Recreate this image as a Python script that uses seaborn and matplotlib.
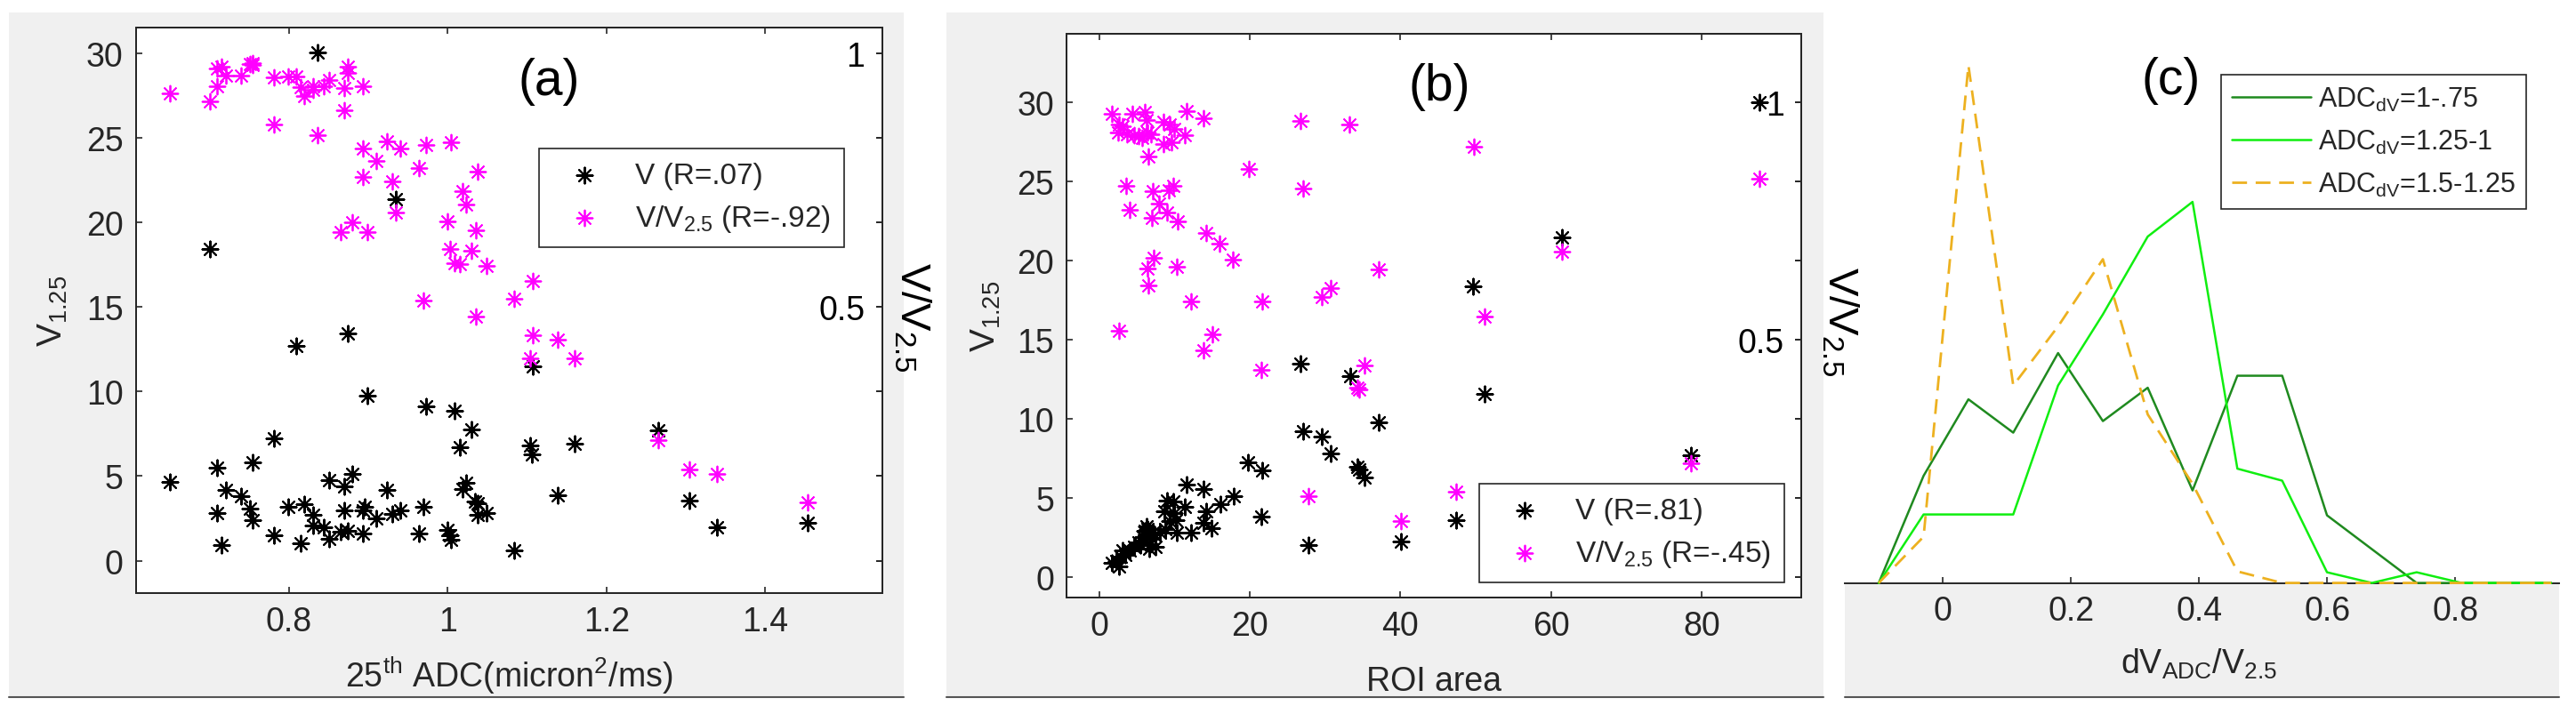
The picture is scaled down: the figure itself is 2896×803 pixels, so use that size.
import numpy as np
import pandas as pd
import matplotlib
matplotlib.use("Agg")
import matplotlib.pyplot as plt
import seaborn as sns
from matplotlib.patches import Rectangle
from matplotlib.lines import Line2D

# ---- panel (a): 25th ADC vs V1.25 (black) and V/V2.5 (magenta, right axis)
adc_v = [0.650, 0.700, 0.709, 0.720, 0.709, 0.715, 0.739, 0.751, 0.754, 0.754,
         0.781, 0.781, 0.799, 0.809, 0.815, 0.819, 0.830, 0.830, 0.836, 0.844,
         0.850, 0.850, 0.869, 0.869, 0.865, 0.874, 0.874, 0.880, 0.893, 0.893,
         0.895, 0.899, 0.910, 0.923, 0.930, 0.935, 0.940, 0.964, 0.969, 0.973,
         0.999, 1.003, 1.004, 1.008, 1.015, 1.019, 1.023, 1.030, 1.034, 1.038,
         1.038, 1.049, 1.084, 1.104, 1.106, 1.107, 1.160, 1.138, 1.265, 1.304,
         1.339, 1.453]
v_a = [4.67, 18.45, 5.49, 4.16, 2.83, 0.91, 3.79, 3.06, 2.39, 5.82,
       7.26, 1.51, 3.17, 12.73, 1.00, 3.34, 2.72, 2.10, 30.07, 1.95,
       1.28, 4.78, 4.38, 2.95, 1.73, 1.77, 13.46, 5.12, 1.62, 2.95,
       3.17, 9.77, 2.50, 4.16, 2.77, 21.39, 2.95, 1.62, 3.17, 9.15,
       1.84, 1.51, 1.22, 8.88, 6.71, 4.23, 4.61, 7.75, 3.50, 3.39,
       2.72, 2.83, 0.62, 6.82, 6.31, 11.47, 6.93, 3.88, 7.71, 3.57,
       1.95, 2.24]

adc_r = [0.650, 0.700, 0.709, 0.709, 0.715, 0.720, 0.739, 0.751, 0.754, 0.754,
         0.781, 0.781, 0.799, 0.809, 0.815, 0.819, 0.830, 0.830, 0.836, 0.844,
         0.850, 0.869, 0.869, 0.874, 0.874, 0.893, 0.893, 0.893, 0.910, 0.923,
         0.930, 0.935, 0.940, 0.865, 0.880, 0.899, 0.964, 0.973, 0.969, 1.004,
         0.999, 1.003, 1.008, 1.015, 1.019, 1.023, 1.030, 1.035, 1.035, 1.038,
         1.049, 1.084, 1.107, 1.107, 1.138, 1.104, 1.160, 1.265, 1.304, 1.339,
         1.453]
ratio_a = [0.921, 0.906, 0.936, 0.971, 0.975, 0.956, 0.956, 0.980, 0.982, 0.977,
           0.953, 0.860, 0.954, 0.954, 0.934, 0.917, 0.929, 0.936, 0.839, 0.936,
           0.948, 0.932, 0.888, 0.975, 0.962, 0.935, 0.813, 0.757, 0.788, 0.827,
           0.748, 0.687, 0.813, 0.648, 0.667, 0.648, 0.775, 0.819, 0.513, 0.825,
           0.669, 0.615, 0.587, 0.584, 0.729, 0.703, 0.611, 0.652, 0.481, 0.768,
           0.582, 0.517, 0.551, 0.445, 0.435, 0.399, 0.399, 0.238, 0.179, 0.171,
           0.115]

# ---- panel (b): ROI area
roi_v = [1.70, 2.29, 2.69, 2.89, 3.09, 3.48, 4.07, 4.67, 5.26, 5.85,
         6.05, 6.45, 6.65, 7.16, 7.44, 8.03, 8.62, 8.82, 9.42, 9.81,
         10.0, 10.3, 11.4, 11.6, 12.2, 13.8, 13.9, 14.2, 14.9, 16.1,
         17.9, 19.8, 21.7, 21.5, 26.7, 27.1, 27.8, 29.6, 30.7, 33.3,
         34.3, 34.5, 35.2, 37.1, 40.1, 47.4, 51.2, 49.6, 61.4, 78.5,
         87.6, 6.3, 7.0, 9.0, 10.2, 5.5]
v_b = [0.90, 1.03, 0.65, 1.28, 1.66, 1.40, 1.66, 1.91, 2.16, 2.53,
       2.91, 3.03, 1.78, 2.78, 1.91, 2.78, 4.16, 3.03, 3.54, 4.79,
       4.04, 2.78, 4.41, 5.84, 2.83, 5.54, 3.41, 4.16, 3.09, 4.61,
       5.12, 7.25, 6.75, 3.84, 13.49, 9.23, 2.03, 8.88, 7.80, 12.69,
       6.97, 6.80, 6.30, 9.76, 2.23, 3.59, 11.56, 18.38, 21.47, 7.67,
       30.0, 3.2, 2.4, 4.8, 3.6, 2.0]

roi_r = [1.70, 2.69, 2.49, 3.09, 3.68, 4.39, 4.67, 5.26, 5.66, 6.05,
         6.25, 6.45, 6.84, 6.57, 8.50, 9.42, 10.0, 8.50, 9.61, 11.4,
         11.6, 13.8, 3.60, 4.07, 7.16, 7.95, 6.96, 9.02, 9.30, 9.81,
         10.4, 14.2, 16.0, 17.8, 7.24, 6.45, 6.53, 10.3, 12.2, 21.7,
         2.69, 15.0, 13.8, 21.5, 19.9, 26.7, 27.1, 33.2, 29.6, 30.7,
         37.1, 35.2, 34.3, 34.5, 27.8, 40.1, 49.7, 51.2, 47.4, 61.4,
         78.5, 87.6]
ratio_b = [0.975, 0.954, 0.937, 0.950, 0.933, 0.975, 0.931, 0.929, 0.925, 0.979,
           0.962, 0.937, 0.933, 0.885, 0.958, 0.954, 0.944, 0.912, 0.916, 0.931,
           0.982, 0.966, 0.824, 0.773, 0.812, 0.787, 0.756, 0.768, 0.814, 0.824,
           0.749, 0.724, 0.703, 0.668, 0.672, 0.649, 0.615, 0.653, 0.581, 0.581,
           0.518, 0.511, 0.477, 0.436, 0.860, 0.960, 0.818, 0.954, 0.589, 0.609,
           0.647, 0.446, 0.398, 0.395, 0.171, 0.118, 0.906, 0.548, 0.179, 0.685,
           0.239, 0.839]

# ---- panel (c): distributions of dV_ADC/V2.5
bins_c = [-0.10, -0.03, 0.04, 0.11, 0.18, 0.25, 0.32, 0.39, 0.46, 0.53,
          0.60, 0.67, 0.74, 0.81, 0.88, 0.95]
dist_1_075 = [0.0, 0.241, 0.413, 0.338, 0.517, 0.364, 0.439, 0.208, 0.466, 0.466,
              0.152, 0.076, 0.0, 0.0, 0.0, 0.0]
dist_125_1 = [0.0, 0.154, 0.154, 0.154, 0.444, 0.604, 0.779, 0.857, 0.257, 0.230,
              0.024, 0.0, 0.024, 0.0, 0.0, 0.0]
dist_15_125 = [0.0, 0.104, 1.164, 0.444, 0.577, 0.728, 0.379, 0.223, 0.026, 0.0,
               0.0, 0.0, 0.0, 0.0, 0.0, 0.0]
labels_c = [r'ADC$_{dV}$=1-.75', r'ADC$_{dV}$=1.25-1', r'ADC$_{dV}$=1.5-1.25']
colors_c = ['#1f8a1f', '#10ee10', '#EDB120']

sns.set_theme(style='ticks')
plt.rcParams['font.family'] = ['Liberation Sans', 'DejaVu Sans']
plt.rcParams['mathtext.fontset'] = 'custom'
plt.rcParams['mathtext.rm'] = 'Liberation Sans'
plt.rcParams['mathtext.it'] = 'Liberation Sans:italic'
plt.rcParams['mathtext.default'] = 'regular'

W, H = 2896, 804
DARK = '#262626'
GRAY = '#F0F0F0'
fig = plt.figure(figsize=(W / 100, H / 100), dpi=100, facecolor='white')


def fx(px):
    return px / W


def fy(py):
    return 1 - py / H


# grey panel backgrounds, like the matlab figure windows
for x0, x1, y0, y1 in [(10, 1016, 15, 785), (1064, 2050, 15, 785), (2074, 2877, 656, 785)]:
    fig.add_artist(Rectangle((fx(x0), fy(y1)), fx(x1 - x0), (y1 - y0) / H,
                             transform=fig.transFigure, facecolor=GRAY,
                             edgecolor='none', zorder=-10))
    fig.add_artist(Line2D([fx(x0), fx(x1)], [fy(y1), fy(y1)], transform=fig.transFigure,
                          color='#555555', lw=1.5, zorder=-9))


def style_box(ax):
    for sp in ax.spines.values():
        sp.set_linewidth(1.4)
        sp.set_color(DARK)


def scatter_panel(rect, xv, yv, xr, yr, xlim, ylim, xticks, xticklabels,
                  lab_v, lab_r, xlabel, letter, letter_xy, leg_kw, ylab_x, rlab_x):
    ax = fig.add_axes(rect)
    ax.set_facecolor('white')
    sns.scatterplot(x=xv, y=yv, ax=ax, color='black', marker=(8, 2, 0), s=165,
                    linewidth=1.5, label=lab_v)
    ax.set_xlim(*xlim)
    ax.set_ylim(*ylim)
    ax.set_xticks(xticks)
    ax.set_xticklabels(xticklabels)
    ax.set_yticks([0, 5, 10, 15, 20, 25, 30])
    ax.tick_params(axis='both', direction='in', length=5, width=1.2, colors=DARK,
                   labelsize=27, pad=10, top=True)
    if ax.get_legend() is not None:
        ax.get_legend().remove()
    ax.set_xlabel(xlabel, fontsize=27, color=DARK, va='baseline')
    ax.xaxis.set_label_coords(0.5, -0.165)
    ax.set_ylabel(r'V$_{1.25}$', fontsize=28, color=DARK, va='center')
    ax.yaxis.set_label_coords(ylab_x, 0.5)
    style_box(ax)

    ax2 = ax.twinx()
    sns.scatterplot(x=xr, y=yr, ax=ax2, color='#FF00FF', marker=(8, 2, 0), s=165,
                    linewidth=1.3, label=lab_r)
    ax2.set_ylim(ylim[0] / 30, ylim[1] / 30)
    ax2.set_yticks(np.linspace(0, 1, 7))
    ax2.set_yticklabels(['', '', '', '0.5', '', '', '1'])
    ax2.tick_params(axis='y', direction='in', length=5, width=1.2, colors='black',
                    labelsize=27, pad=-14)
    for lab in ax2.get_yticklabels():
        lab.set_horizontalalignment('right')
    ax2.set_ylabel(r'V/V$_{2.5}$', fontsize=34, color='black', rotation=270,
                   va='center', ha='center')
    ax2.yaxis.set_label_coords(rlab_x, 0.49)
    style_box(ax2)
    if ax2.get_legend() is not None:
        ax2.get_legend().remove()

    h1, l1 = ax.get_legend_handles_labels()
    h2, l2 = ax2.get_legend_handles_labels()
    leg = ax2.legend(h1 + h2, l1 + l2, frameon=True, fancybox=False, framealpha=1,
                     edgecolor=DARK, borderaxespad=0, scatterpoints=1,
                     handlelength=2.2, handletextpad=0.6, borderpad=0.45,
                     labelspacing=0.45, **leg_kw)
    leg.get_frame().set_linewidth(1.2)
    ax2.text(letter_xy[0], letter_xy[1] / 30, letter, fontsize=41, ha='center',
             va='center', color='black')
    return ax, ax2


scatter_panel([fx(152.7), fy(668), fx(839), 636.2 / H], adc_v, v_a, adc_r, ratio_a,
              (0.607, 1.547), (-1.92, 31.55), [0.8, 1.0, 1.2, 1.4],
              ['0.8', '1', '1.2', '1.4'], 'V (R=.07)', r'V/V$_{2.5}$ (R=-.92)',
              r'25$^{th}$ ADC(micron$^{2}$/ms)', '(a)', (1.127, 28.4),
              dict(loc='upper left', bbox_to_anchor=(0.54, 0.786), fontsize=24),
              -0.1117, 1.04)

scatter_panel([fx(1199), fy(672.7), fx(826), 633.95 / H], roi_v, v_b, roi_r, ratio_b,
              (-4.33, 93.2), (-1.28, 34.34), [0, 20, 40, 60, 80],
              ['0', '20', '40', '60', '80'], 'V (R=.81)', r'V/V$_{2.5}$ (R=-.45)',
              'ROI area', '(b)', (45.2, 31.0),
              dict(loc='lower right', bbox_to_anchor=(0.977, 0.026), fontsize=24),
              -0.1094, 1.052)

# ---- panel (c)
ax3 = fig.add_axes([fx(2074), fy(656.6), fx(802.7), 656.6 / H])
ax3.set_zorder(-1)  # keep panel (b)'s right label visible
ax3.set_facecolor('white')
for ys, lab, col in zip([dist_1_075, dist_125_1, dist_15_125], labels_c, colors_c):
    ls = (0, (6, 3.5)) if col == '#EDB120' else '-'
    lw = 2.0 if col == '#EDB120' else 1.8
    sns.lineplot(x=bins_c, y=ys, ax=ax3, color=col, linewidth=lw, linestyle=ls,
                 label=lab, estimator=None, clip_on=False, zorder=3)
ax3.set_xlim(-0.153, 0.962)
ax3.set_ylim(0, 1.313)
ax3.set_xticks([0, 0.2, 0.4, 0.6, 0.8])
ax3.set_xticklabels(['0', '0.2', '0.4', '0.6', '0.8'])
ax3.set_yticks([])
for side in ['top', 'left', 'right']:
    ax3.spines[side].set_visible(False)
ax3.spines['bottom'].set_linewidth(1.4)
ax3.spines['bottom'].set_color(DARK)
ax3.tick_params(axis='x', direction='in', length=5, width=1.2, colors=DARK,
                labelsize=27, pad=10)
ax3.set_xlabel(r'dV$_{ADC}$/V$_{2.5}$', fontsize=27, color=DARK, va='baseline')
ax3.xaxis.set_label_coords(0.496, -0.154)
ax3.set_ylabel('')
leg3 = ax3.legend(loc='upper right', bbox_to_anchor=(0.954, 0.871), fontsize=22,
                  frameon=True, fancybox=False, framealpha=1, edgecolor=DARK,
                  borderaxespad=0, handlelength=2.9, handletextpad=0.25,
                  borderpad=0.4, labelspacing=0.55)
leg3.get_frame().set_linewidth(1.2)
ax3.text(0.356, 1.132, '(c)', fontsize=41, ha='center', va='center', color='black')

fig.savefig('out.png', dpi=100, facecolor='white')
